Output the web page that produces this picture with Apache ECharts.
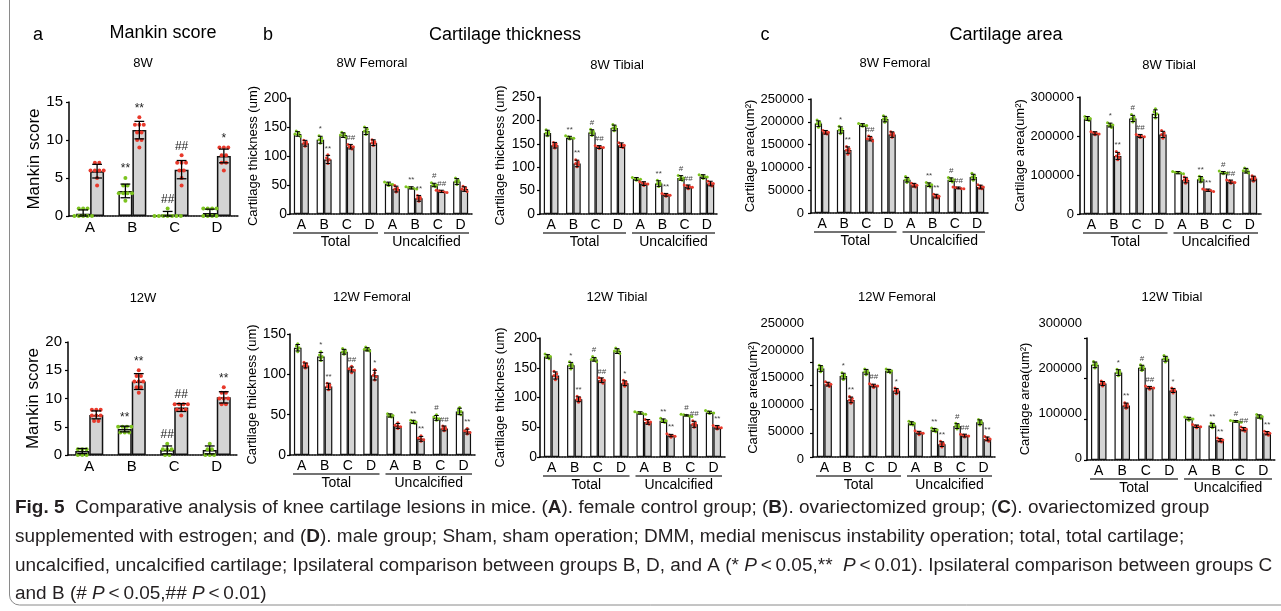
<!DOCTYPE html>
<html><head><meta charset="utf-8">
<script src="https://cdn.jsdelivr.net/npm/echarts@6/dist/echarts.min.js"></script>
<style>html,body{margin:0;padding:0;background:#fff}#c{width:1281px;height:611px}</style>
</head><body><div id="c"></div>
<script>
// ---------------- DATA ----------------
const groups = ['A', 'B', 'C', 'D'];
const cats8 = ['A', 'B', 'C', 'D', 'A', 'B', 'C', 'D'];
const cartilageParts = ['Total', 'Uncalcified'];

// Mankin score 8W
const mankin8_ticks = [0, 5, 10, 15];
const mankin8_sham = [0.3, 3.3, 0.2, 0.4];
const mankin8_dmm = [5.9, 11.3, 6.1, 7.9];
const mankin8_shamSD = [0.5, 0.9, 0.4, 0.5];
const mankin8_dmmSD = [0.9, 1.15, 1.2, 0.9];
const mankin8_shamDots = [[1,1,1,0,0,0,0,0],[5,4,4,3,3,3,3,2],[1,0,0,0,0,0,0,0],[1,1,1,1,0,0,0,0]];
const mankin8_dmmDots = [[7,7,6,6,6,6,5,4],[13,12,12,12,11,11,10,10,9],[8,7,7,7,6,6,5,4],[9,9,9,8,8,7,7,6]];
const mankin8_shamSig = ['', '**', '##', ''];
const mankin8_dmmSig = ['', '**', '##', '*'];

// Mankin score 12W
const mankin12_ticks = [0, 5, 10, 15, 20];
const mankin12_sham = [0.7, 4.6, 0.9, 0.9];
const mankin12_dmm = [7.1, 13.0, 8.4, 10.2];
const mankin12_shamSD = [0.45, 0.5, 0.7, 0.7];
const mankin12_dmmSD = [0.7, 1.4, 0.7, 1.0];
const mankin12_shamDots = [[1,1,1,0,0,0],[5,5,5,5,4,4,4],[2,1,1,1,0,0],[2,1,1,0,0,0]];
const mankin12_dmmDots = [[8,8,8,7,7,7,6,6],[15,14,14,13,13,13,12,12,11],[9,9,9,9,8,8,8,7],[12,11,11,10,10,10,9,9]];
const mankin12_shamSig = ['', '**', '##', ''];
const mankin12_dmmSig = ['', '**', '##', '**'];

// Cartilage thickness 8W Femoral
const thick8F_ticks = [0, 50, 100, 150, 200];
const thick8F_sham = [138, 128, 136, 143, 52, 45, 50, 56];
const thick8F_dmm = [122, 94, 116, 123, 43, 27, 39, 43];
const thick8F_shamSD = [4, 6, 4, 6, 3, 2, 3, 5];
const thick8F_dmmSD = [5, 7, 4, 5, 5, 5, 2, 4];
const thick8F_shamDots = [[143,140,138,137,134],[135,131,128,126,122],[141,138,136,135,132],[150,146,143,141,137],[55,53,52,51,49],[47,46,45,44,43],[54,51,50,49,47],[62,58,56,55,51]];
const thick8F_dmmDots = [[127,124,122,121,117],[102,97,94,92,87],[120,118,116,115,112],[128,125,123,122,118],[49,45,43,41,38],[32,29,27,26,22],[41,40,39,38,37],[48,45,43,42,39]];
const thick8F_shamSig = ['', '*', '', '', '', '**', '#', ''];
const thick8F_dmmSig = ['', '**', '##', '', '', '**', '##', ''];

// Cartilage thickness 8W Tibial
const thick8T_ticks = [0, 50, 100, 150, 200, 250];
const thick8T_sham = [173, 163, 174, 184, 75, 65, 77, 80];
const thick8T_dmm = [147, 108, 143, 147, 65, 41, 58, 65];
const thick8T_shamSD = [6, 3, 6, 6, 3, 6, 5, 4];
const thick8T_dmmSD = [6, 7, 3, 5, 4, 3, 4, 5];
const thick8T_shamDots = [[180,176,173,171,167],[167,165,163,162,160],[181,177,174,172,168],[191,187,184,182,178],[78,76,75,74,72],[72,67,65,63,59],[82,79,77,75,72],[84,82,80,79,76]];
const thick8T_dmmDots = [[153,150,147,145,141],[116,111,108,105,101],[146,144,143,142,140],[152,149,147,146,142],[69,67,65,64,61],[44,42,41,40,38],[62,60,58,57,54],[70,67,65,63,60]];
const thick8T_shamSig = ['', '**', '#', '', '', '**', '#', ''];
const thick8T_dmmSig = ['', '**', '##', '', '', '**', '##', ''];

// Cartilage thickness 12W Femoral
const thick12F_ticks = [0, 50, 100, 150];
const thick12F_sham = [133, 122, 128, 131, 49, 41, 46, 54];
const thick12F_dmm = [111, 85, 106, 99, 36, 20, 33, 29];
const thick12F_shamSD = [4, 5, 3, 2, 2, 2, 3, 4];
const thick12F_dmmSD = [3, 4, 3, 6, 3, 3, 3, 3];
const thick12F_shamDots = [[138,135,133,131,128],[128,124,122,120,117],[132,130,128,127,125],[134,132,131,130,129],[51,50,49,48,47],[43,42,41,40,39],[50,47,46,45,43],[59,56,54,52,50]];
const thick12F_dmmDots = [[115,113,111,110,108],[89,87,85,84,81],[110,107,106,105,102],[106,102,99,97,93],[40,37,36,35,33],[24,21,20,19,17],[36,34,33,32,30],[33,30,29,28,26]];
const thick12F_shamSig = ['', '*', '', '', '', '**', '#', ''];
const thick12F_dmmSig = ['', '**', '##', '*', '', '**', '##', '**'];

// Cartilage thickness 12W Tibial
const thick12T_ticks = [0, 50, 100, 150, 200];
const thick12T_sham = [169, 154, 164, 178, 74, 61, 70, 75];
const thick12T_dmm = [137, 97, 129, 124, 59, 36, 55, 50];
const thick12T_shamSD = [3, 5, 3, 4, 2, 3, 1, 2];
const thick12T_dmmSD = [6, 4, 4, 4, 4, 2, 5, 3];
const thick12T_shamDots = [[173,171,169,168,165],[160,156,154,152,148],[169,166,164,163,160],[183,180,178,177,174],[76,75,74,73,72],[65,62,61,60,58],[72,71,70,69,68],[78,76,75,74,73]];
const thick12T_dmmDots = [[144,140,137,134,130],[102,99,97,95,92],[133,131,129,127,124],[129,126,124,122,119],[63,61,59,57,55],[39,37,36,35,33],[61,57,55,53,50],[53,51,50,49,47]];
const thick12T_shamSig = ['', '*', '#', '', '', '**', '#', ''];
const thick12T_dmmSig = ['', '**', '##', '*', '', '**', '##', '**'];

// Cartilage area 8W Femoral
const area8F_ticks = [0, 50000, 100000, 150000, 200000, 250000];
const area8F_sham = [196000, 182000, 193000, 206000, 73000, 62000, 73000, 79000];
const area8F_dmm = [177000, 138000, 163000, 172000, 61000, 37000, 55000, 57000];
const area8F_shamSD = [6000, 7000, 3000, 6000, 5000, 4000, 4000, 6000];
const area8F_dmmSD = [4000, 7000, 5000, 6000, 4000, 4000, 2000, 4000];
const area8F_shamDots = [[204000,199000,196000,193000,188000],[190000,185000,182000,178000,174000],[196000,194000,193000,192000,190000],[213000,209000,206000,203000,199000],[80000,75000,73000,71000,67000],[67000,64000,62000,60000,57000],[78000,75000,73000,71000,68000],[87000,82000,79000,76000,72000]];
const area8F_dmmDots = [[181000,179000,177000,175000,173000],[146000,141000,138000,135000,129000],[169000,165000,163000,161000,158000],[178000,175000,172000,170000,166000],[65000,63000,61000,59000,57000],[41000,39000,37000,35000,33000],[57000,56000,55000,54000,53000],[62000,59000,57000,55000,53000]];
const area8F_shamSig = ['', '*', '', '', '', '**', '#', ''];
const area8F_dmmSig = ['', '**', '##', '', '', '**', '##', ''];

// Cartilage area 8W Tibial
const area8T_ticks = [0, 100000, 200000, 300000];
const area8T_sham = [245000, 228000, 245000, 257000, 106000, 89000, 106000, 111000];
const area8T_dmm = [207000, 149000, 200000, 204000, 87000, 61000, 83000, 91000];
const area8T_shamSD = [5000, 5000, 8000, 10000, 3000, 7000, 3000, 6000];
const area8T_dmmSD = [4000, 9000, 4000, 8000, 7000, 3000, 4000, 6000];
const area8T_shamDots = [[250000,247000,245000,243000,240000],[234000,230000,228000,226000,222000],[255000,249000,245000,241000,236000],[270000,262000,257000,253000,246000],[109000,107000,106000,105000,103000],[97000,92000,89000,86000,82000],[110000,107000,106000,105000,103000],[118000,114000,111000,108000,105000]];
const area8T_dmmDots = [[211000,209000,207000,205000,203000],[160000,154000,149000,145000,139000],[204000,202000,200000,198000,196000],[214000,208000,204000,200000,194000],[95000,90000,87000,84000,79000],[64000,62000,61000,60000,58000],[87000,85000,83000,81000,79000],[98000,94000,91000,88000,84000]];
const area8T_shamSig = ['', '*', '#', '', '', '**', '#', ''];
const area8T_dmmSig = ['', '**', '##', '', '', '**', '##', ''];

// Cartilage area 12W Femoral
const area12F_ticks = [0, 50000, 100000, 150000, 200000, 250000];
const area12F_sham = [186000, 170000, 179000, 181000, 71000, 57000, 65000, 73000];
const area12F_dmm = [153000, 120000, 150000, 139000, 51000, 27000, 45000, 38000];
const area12F_shamSD = [6000, 6000, 5000, 3000, 3000, 3000, 5000, 5000];
const area12F_dmmSD = [4000, 6000, 3000, 5000, 3000, 5000, 3000, 4000];
const area12F_shamDots = [[193000,189000,186000,183000,179000],[177000,173000,170000,167000,163000],[185000,181000,179000,177000,173000],[185000,183000,181000,179000,177000],[75000,73000,71000,69000,67000],[61000,59000,57000,55000,53000],[71000,67000,65000,63000,59000],[79000,75000,73000,71000,67000]];
const area12F_dmmDots = [[158000,155000,153000,151000,148000],[127000,123000,120000,117000,113000],[154000,151000,150000,149000,146000],[145000,141000,139000,137000,133000],[55000,52000,51000,50000,47000],[33000,29000,27000,25000,21000],[48000,46000,45000,44000,42000],[43000,40000,38000,36000,33000]];
const area12F_shamSig = ['', '*', '', '', '', '**', '#', ''];
const area12F_dmmSig = ['', '**', '##', '*', '', '**', '##', '**'];

// Cartilage area 12W Tibial
const area12T_ticks = [0, 100000, 200000, 300000];
const area12T_sham = [234000, 215000, 227000, 249000, 102000, 85000, 95000, 107000];
const area12T_dmm = [188000, 134000, 178000, 171000, 83000, 49000, 76000, 66000];
const area12T_shamSD = [7000, 7000, 6000, 6000, 3000, 5000, 2000, 4000];
const area12T_dmmSD = [5000, 6000, 3000, 5000, 3000, 4000, 4000, 4000];
const area12T_shamDots = [[242000,237000,234000,231000,226000],[223000,218000,215000,212000,207000],[234000,230000,227000,224000,220000],[257000,252000,249000,246000,241000],[106000,103000,102000,101000,98000],[91000,87000,85000,83000,79000],[97000,96000,95000,94000,93000],[112000,109000,107000,105000,102000]];
const area12T_dmmDots = [[194000,190000,188000,186000,182000],[141000,137000,134000,131000,127000],[182000,179000,178000,177000,174000],[177000,173000,171000,169000,165000],[87000,84000,83000,82000,79000],[54000,51000,49000,47000,44000],[81000,78000,76000,74000,71000],[71000,68000,66000,64000,61000]];
const area12T_shamSig = ['', '*', '#', '', '', '**', '#', ''];
const area12T_dmmSig = ['', '**', '##', '*', '', '**', '##', '**'];

// ---------------- STYLE / LAYOUT ----------------
const FONT = '"Liberation Sans", Arial, Helvetica, sans-serif';
const CAP_FONT = '"Liberation Sans", Arial, sans-serif';
const GREEN = '#7cc31f', RED = '#e8392b', BAR_GREY = '#d4d4d4';
const BAR_FRAC = 0.33;
const BIG = {dotR: 2.0, dotGap: 4.4, rowStep: 3, capFrac: 0.7, errW: 1.3, sigFont: 12, sigColor: '#222', sigGap: 1, barBorder: 1.5, tickFont: 15, catFont: 15, nameFont: 17, axisW: 1.5};
const SMALL = {dotR: 1.5, dotGap: 2.7, rowStep: 2.4, capFrac: 0.6, errW: 1, sigFont: 8, sigColor: '#444', sigGap: 1, barBorder: 1.2, tickFont: 14, catFont: 14, nameFont: 13, axisW: 1.5};
const SMALL_AREA = Object.assign({}, SMALL, {tickFont: 13});
const plainNumber = v => String(v);

const panels = [
  {title: '8W', cats: groups, ticks: mankin8_ticks, sham: mankin8_sham, dmm: mankin8_dmm, shamSD: mankin8_shamSD, dmmSD: mankin8_dmmSD,
   shamDots: mankin8_shamDots, dmmDots: mankin8_dmmDots, shamSig: mankin8_shamSig, dmmSig: mankin8_dmmSig, yName: 'Mankin score',
   lay: {left: 69, top: 102, width: 169, height: 114, tx: 143, ty: 63, nameGap: 23.5, lm: 6}, st: BIG},
  {title: '12W', cats: groups, ticks: mankin12_ticks, sham: mankin12_sham, dmm: mankin12_dmm, shamSD: mankin12_shamSD, dmmSD: mankin12_dmmSD,
   shamDots: mankin12_shamDots, dmmDots: mankin12_dmmDots, shamSig: mankin12_shamSig, dmmSig: mankin12_dmmSig, yName: 'Mankin score',
   lay: {left: 68, top: 342, width: 170, height: 113, tx: 143, ty: 298, nameGap: 22.5, lm: 6}, st: BIG},
  {title: '8W Femoral', cats: cats8, ticks: thick8F_ticks, sham: thick8F_sham, dmm: thick8F_dmm, shamSD: thick8F_shamSD, dmmSD: thick8F_dmmSD,
   shamDots: thick8F_shamDots, dmmDots: thick8F_dmmDots, shamSig: thick8F_shamSig, dmmSig: thick8F_dmmSig, yName: 'Cartilage thickness (um)',
   lay: {left: 290, top: 98, width: 182, height: 116, tx: 372, ty: 63, nameGap: 28.5, lm: 3}, st: SMALL, parts: true},
  {title: '8W Tibial', cats: cats8, ticks: thick8T_ticks, sham: thick8T_sham, dmm: thick8T_dmm, shamSD: thick8T_shamSD, dmmSD: thick8T_dmmSD,
   shamDots: thick8T_shamDots, dmmDots: thick8T_dmmDots, shamSig: thick8T_shamSig, dmmSig: thick8T_dmmSig, yName: 'Cartilage thickness (um)',
   lay: {left: 540, top: 97, width: 178, height: 117, tx: 617, ty: 65, nameGap: 33.5, lm: 5}, st: SMALL, parts: true},
  {title: '12W Femoral', cats: cats8, ticks: thick12F_ticks, sham: thick12F_sham, dmm: thick12F_dmm, shamSD: thick12F_shamSD, dmmSD: thick12F_dmmSD,
   shamDots: thick12F_shamDots, dmmDots: thick12F_dmmDots, shamSig: thick12F_shamSig, dmmSig: thick12F_dmmSig, yName: 'Cartilage thickness (um)',
   lay: {left: 290, top: 334, width: 185, height: 121, tx: 372, ty: 297, nameGap: 28.5, lm: 4}, st: SMALL, parts: true},
  {title: '12W Tibial', cats: cats8, ticks: thick12T_ticks, sham: thick12T_sham, dmm: thick12T_dmm, shamSD: thick12T_shamSD, dmmSD: thick12T_dmmSD,
   shamDots: thick12T_shamDots, dmmDots: thick12T_dmmDots, shamSig: thick12T_shamSig, dmmSig: thick12T_dmmSig, yName: 'Cartilage thickness (um)',
   lay: {left: 540, top: 338, width: 185, height: 119, tx: 617, ty: 297, nameGap: 33.5, lm: 3}, st: SMALL, parts: true},
  {title: '8W Femoral', cats: cats8, ticks: area8F_ticks, sham: area8F_sham, dmm: area8F_dmm, shamSD: area8F_shamSD, dmmSD: area8F_dmmSD,
   shamDots: area8F_shamDots, dmmDots: area8F_dmmDots, shamSig: area8F_shamSig, dmmSig: area8F_dmmSig, yName: 'Cartilage area(um²)',
   lay: {left: 811, top: 99, width: 177, height: 114, tx: 895, ty: 63, nameGap: 51.5, lm: 7}, st: SMALL_AREA, parts: true},
  {title: '8W Tibial', cats: cats8, ticks: area8T_ticks, sham: area8T_sham, dmm: area8T_dmm, shamSD: area8T_shamSD, dmmSD: area8T_dmmSD,
   shamDots: area8T_shamDots, dmmDots: area8T_dmmDots, shamSig: area8T_shamSig, dmmSig: area8T_dmmSig, yName: 'Cartilage area(um²)',
   lay: {left: 1080, top: 97, width: 181, height: 117, tx: 1169, ty: 65, nameGap: 50.5, lm: 6}, st: SMALL_AREA, parts: true},
  {title: '12W Femoral', cats: cats8, ticks: area12F_ticks, sham: area12F_sham, dmm: area12F_dmm, shamSD: area12F_shamSD, dmmSD: area12F_dmmSD,
   shamDots: area12F_shamDots, dmmDots: area12F_dmmDots, shamSig: area12F_shamSig, dmmSig: area12F_dmmSig, yName: 'Cartilage area(um²)',
   lay: {left: 813, top: 338, width: 182, height: 119, tx: 897, ty: 297, nameGap: 53.5, lm: 9, labelTop: 323, labelHeight: 136}, st: SMALL_AREA, parts: true},
  {title: '12W Tibial', cats: cats8, ticks: area12T_ticks, sham: area12T_sham, dmm: area12T_dmm, shamSD: area12T_shamSD, dmmSD: area12T_dmmSD,
   shamDots: area12T_shamDots, dmmDots: area12T_dmmDots, shamSig: area12T_shamSig, dmmSig: area12T_dmmSig, yName: 'Cartilage area(um²)',
   lay: {left: 1087, top: 338, width: 188, height: 122, tx: 1172, ty: 297, nameGap: 55.5, lm: 5, labelTop: 323, labelHeight: 135}, st: SMALL_AREA, parts: true}
];

// ---------------- BUILD ----------------
const option = {animation: false, backgroundColor: '#fff', grid: [], xAxis: [], yAxis: [], series: [], graphic: []};

function sideSeries(p, gi, side) {
  const means = side ? p.dmm : p.sham;
  const sds = side ? p.dmmSD : p.shamSD;
  const dots = side ? p.dmmDots : p.shamDots;
  const sigs = side ? p.dmmSig : p.shamSig;
  const color = side ? RED : GREEN;
  const st = p.st;
  return {
    type: 'custom', xAxisIndex: gi, yAxisIndex: gi, clip: false, silent: true, z: 5,
    data: means.map((m, i) => [i, m]),
    renderItem(params, api) {
      const i = api.value(0), m = api.value(1);
      const band = api.size([1, 0])[0];
      const bw = band * BAR_FRAC;
      const cx = api.coord([i, m])[0] + (side ? bw / 2 : -bw / 2);
      const sd = sds[i];
      const yHi = api.coord([i, m + sd])[1];
      const yLo = api.coord([i, Math.max(p.ticks[0], m - sd)])[1];
      const children = [];
      const ys = dots[i].map(v => api.coord([i, v])[1]).sort((a, b) => a - b);
      const rows = [];
      ys.forEach(y => {
        const last = rows[rows.length - 1];
        if (last && y - last.y0 < st.rowStep) last.ys.push(y); else rows.push({y0: y, ys: [y]});
      });
      rows.forEach(row => {
        const n = row.ys.length;
        row.ys.forEach((y, k) => {
          children.push({type: 'circle', shape: {cx: cx + (k - (n - 1) / 2) * st.dotGap, cy: y, r: st.dotR}, style: {fill: color}});
        });
      });
      const cap = bw * st.capFrac / 2;
      const ls = {stroke: '#000', lineWidth: st.errW};
      children.push({type: 'line', shape: {x1: cx, y1: yHi, x2: cx, y2: yLo}, style: ls});
      children.push({type: 'line', shape: {x1: cx - cap, y1: yHi, x2: cx + cap, y2: yHi}, style: ls});
      children.push({type: 'line', shape: {x1: cx - cap, y1: yLo, x2: cx + cap, y2: yLo}, style: ls});
      if (sigs[i]) {
        const top = Math.min(yHi, ys[0] - st.dotR);
        children.push({type: 'text', x: cx, y: top - st.sigGap,
          style: {text: sigs[i], fill: st.sigColor, fontSize: st.sigFont, fontFamily: FONT, align: 'center', verticalAlign: 'bottom'}});
      }
      return {type: 'group', children};
    }
  };
}

function partSeries(p, gi) {
  return {
    type: 'custom', xAxisIndex: gi, yAxisIndex: gi, clip: false, silent: true, z: 5,
    data: cartilageParts.map((name, k) => [k * 4, k * 4 + 3]),
    encode: {x: [0, 1]},
    renderItem(params, api) {
      const k = params.dataIndex;
      const band = api.size([1, 0])[0];
      const a = api.coord([api.value(0), p.ticks[0]]);
      const b = api.coord([api.value(1), p.ticks[0]]);
      const x0 = a[0] - band / 2 + 3, x1 = b[0] + band / 2 - 3, y = a[1];
      return {type: 'group', children: [
        {type: 'line', shape: {x1: x0, y1: y + 19, x2: x1, y2: y + 19}, style: {stroke: '#444', lineWidth: 1.5}},
        {type: 'text', x: (x0 + x1) / 2, y: y + 28, style: {text: cartilageParts[k], fill: '#000', fontSize: 14, fontFamily: FONT, align: 'center', verticalAlign: 'middle'}}
      ]};
    }
  };
}

panels.forEach(p => {
  const L = p.lay, st = p.st;
  const gi = option.grid.length;
  option.grid.push({left: L.left, top: L.top, width: L.width, height: L.height, containLabel: false, outerBoundsMode: 'none'});
  option.xAxis.push({type: 'category', gridIndex: gi, data: p.cats,
    axisLine: {lineStyle: {color: '#000', width: st.axisW, type: [1.5, 1.2]}}, axisTick: {show: false},
    axisLabel: {color: '#000', fontSize: st.catFont, fontFamily: FONT, margin: 4, interval: 0}});
  const tmin = p.ticks[0], tmax = p.ticks[p.ticks.length - 1], tint = p.ticks[1] - p.ticks[0];
  option.yAxis.push({type: 'value', gridIndex: gi, min: tmin, max: tmax, interval: tint, splitLine: {show: false},
    axisLine: {show: true, lineStyle: {color: '#000', width: st.axisW}},
    axisTick: {show: true, length: 3, lineStyle: {color: '#000', width: 1.2}},
    axisLabel: {show: !L.labelTop, color: '#000', fontSize: st.tickFont, fontFamily: FONT, margin: L.lm, formatter: plainNumber},
    name: p.yName, nameLocation: 'middle', nameGap: L.nameGap,
    nameTextStyle: {fontSize: st.nameFont, color: '#000', fontFamily: FONT}});
  option.series.push({type: 'bar', xAxisIndex: gi, yAxisIndex: gi, data: p.sham, barWidth: (BAR_FRAC * 100) + '%', barGap: '0%', silent: true, z: 2,
    itemStyle: {color: '#fff', borderColor: '#111', borderWidth: st.barBorder}});
  option.series.push({type: 'bar', xAxisIndex: gi, yAxisIndex: gi, data: p.dmm, barWidth: (BAR_FRAC * 100) + '%', barGap: '0%', silent: true, z: 2,
    itemStyle: {color: BAR_GREY, borderColor: '#111', borderWidth: st.barBorder}});
  option.series.push(sideSeries(p, gi, 0));
  option.series.push(sideSeries(p, gi, 1));
  if (p.parts) option.series.push(partSeries(p, gi));
  option.graphic.push({type: 'text', x: L.tx, y: L.ty, silent: true,
    style: {text: p.title, fill: '#000', fontSize: 13, fontFamily: FONT, align: 'center', verticalAlign: 'middle'}});
  if (L.labelTop) {
    // tick labels printed on their own scale, as in the source figure
    const gl = option.grid.length;
    option.grid.push({left: L.left, top: L.labelTop, width: L.width, height: L.labelHeight, containLabel: false, outerBoundsMode: 'none'});
    option.xAxis.push({type: 'category', gridIndex: gl, data: p.cats, show: false});
    option.yAxis.push({type: 'value', gridIndex: gl, min: tmin, max: tmax, interval: tint, splitLine: {show: false},
      axisLine: {show: false}, axisTick: {show: false},
      axisLabel: {color: '#000', fontSize: st.tickFont, fontFamily: FONT, margin: L.lm, formatter: plainNumber}});
  }
});

// headers
const headers = [
  {t: 'a', x: 38, y: 35}, {t: 'Mankin score', x: 163, y: 33},
  {t: 'b', x: 268, y: 35}, {t: 'Cartilage thickness', x: 505, y: 35},
  {t: 'c', x: 765, y: 35}, {t: 'Cartilage area', x: 1006, y: 35}
];
headers.forEach(h => option.graphic.push({type: 'text', x: h.x, y: h.y, silent: true,
  style: {text: h.t, fill: '#000', fontSize: 18, fontFamily: FONT, align: 'center', verticalAlign: 'middle'}}));

// frame
option.graphic.push({type: 'rect', silent: true, z: -1, shape: {x: 9.5, y: -20, width: 1320, height: 625, r: 10},
  style: {fill: 'none', stroke: '#8a8a8a', lineWidth: 1}});

// caption
const captionLines = [
  '{b|Fig. 5}  Comparative analysis of knee cartilage lesions in mice. ({b|A}). female control group; ({b|B}). ovariectomized group; ({b|C}). ovariectomized group',
  'supplemented with estrogen; and ({b|D}). male group; Sham, sham operation; DMM, medial meniscus instability operation; total, total cartilage;',
  'uncalcified, uncalcified cartilage; Ipsilateral comparison between groups B, D, and A (* {i|P}\u2009<\u20090.05,**  {i|P}\u2009<\u20090.01). Ipsilateral comparison between groups C',
  'and B (# {i|P}\u2009<\u20090.05,## {i|P}\u2009<\u20090.01)'
];
const ctx = document.createElement('canvas').getContext('2d');
ctx.font = '18px ' + CAP_FONT;
const plain3 = captionLines[2].replace(/\{[a-z]\|([^}]*)\}/g, '$1');
const capSize = Math.min(19, 18 * 1258 / ctx.measureText(plain3).width);
const capY = [508, 537, 566, 594];
captionLines.forEach((line, k) => option.graphic.push({type: 'text', x: 15, y: capY[k], silent: true,
  style: {text: line, fill: '#231f20', fontSize: capSize, fontFamily: CAP_FONT, verticalAlign: 'middle', align: 'left',
    rich: {b: {fontWeight: 'bold', fontSize: capSize, fontFamily: CAP_FONT, fill: '#231f20'},
           i: {fontStyle: 'italic', fontSize: capSize, fontFamily: CAP_FONT, fill: '#231f20'}}}}));

const chart = echarts.init(document.getElementById('c'), null, {renderer: 'canvas'});
chart.setOption(option);
</script>
</body></html>
